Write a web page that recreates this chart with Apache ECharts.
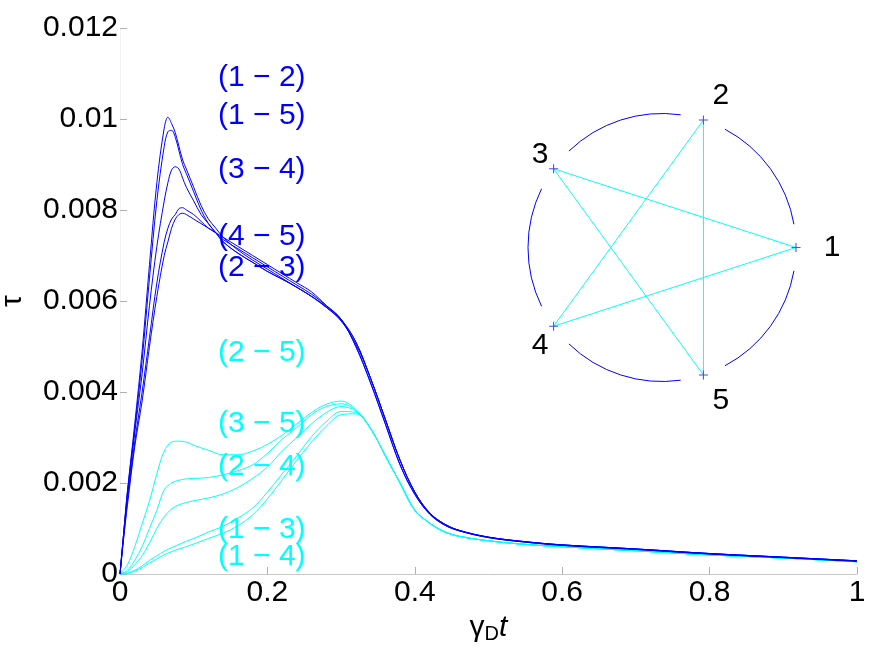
<!DOCTYPE html>
<html>
<head>
<meta charset="utf-8">
<script src="https://cdn.jsdelivr.net/npm/echarts@6/dist/echarts.min.js"></script>
<style>html,body{margin:0;padding:0;background:#fff}#c{width:886px;height:654px}</style>
</head>
<body>
<div id="c"></div>
<script>
// ---------- data ----------
const tBlue = [0, 0.005, 0.01, 0.02, 0.03, 0.04, 0.05, 0.06, 0.065, 0.07, 0.075, 0.08, 0.085, 0.09, 0.1, 0.11, 0.12, 0.13, 0.14, 0.16, 0.18, 0.2, 0.22, 0.24, 0.26, 0.28, 0.3, 0.32, 0.34, 0.36, 0.38, 0.4, 0.42, 0.44, 0.46, 0.5, 0.55, 0.6, 0.7, 0.8, 0.9, 1.0];
const tauBlue12 = [0, 0.0009, 0.0018, 0.0033, 0.0049, 0.0068, 0.0086, 0.0098, 0.01004, 0.0099, 0.0097, 0.0094, 0.0091, 0.0089, 0.0085, 0.0081, 0.0078, 0.0076, 0.0074, 0.00712, 0.0069, 0.0067, 0.0065, 0.0063, 0.0061, 0.00588, 0.0056, 0.0051, 0.0043, 0.0034, 0.0025, 0.0018, 0.00135, 0.0011, 0.00096, 0.00081, 0.00071, 0.00064, 0.00055, 0.00045, 0.00037, 0.00029];
const tauBlue15 = [0, 0.0009, 0.0018, 0.0032, 0.0047, 0.0065, 0.0082, 0.0094, 0.00972, 0.00975, 0.0096, 0.0093, 0.0090, 0.0088, 0.0084, 0.0080, 0.0077, 0.0075, 0.0073, 0.00705, 0.00685, 0.00665, 0.00648, 0.0063, 0.0061, 0.00586, 0.00558, 0.0051, 0.0043, 0.0034, 0.0025, 0.0018, 0.00134, 0.0011, 0.00096, 0.00081, 0.00071, 0.00064, 0.00055, 0.00045, 0.00037, 0.00029];
const tauBlue34 = [0, 0.0009, 0.0017, 0.0031, 0.0044, 0.0059, 0.0072, 0.0082, 0.0086, 0.00888, 0.00895, 0.0089, 0.0087, 0.0085, 0.0082, 0.0079, 0.0077, 0.0075, 0.0073, 0.00705, 0.00685, 0.00665, 0.00648, 0.0063, 0.0061, 0.00586, 0.00556, 0.00505, 0.0043, 0.0034, 0.0025, 0.0018, 0.00134, 0.0011, 0.00096, 0.00081, 0.00071, 0.00064, 0.00055, 0.00045, 0.00037, 0.00029];
const tauBlue45 = [0, 0.0008, 0.0016, 0.0029, 0.0040, 0.0052, 0.0064, 0.0073, 0.0076, 0.0078, 0.0079, 0.00803, 0.00805, 0.0080, 0.0079, 0.00775, 0.0076, 0.0075, 0.0074, 0.0072, 0.0070, 0.0068, 0.0066, 0.0064, 0.0062, 0.0059, 0.0056, 0.0050, 0.0042, 0.0033, 0.0024, 0.00175, 0.00132, 0.00108, 0.00095, 0.0008, 0.0007, 0.00063, 0.00054, 0.00044, 0.00036, 0.00028];
const tauBlue23 = [0, 0.0008, 0.0015, 0.0028, 0.0038, 0.0050, 0.0061, 0.0070, 0.0073, 0.0076, 0.0078, 0.0079, 0.00793, 0.0079, 0.0078, 0.0077, 0.0076, 0.0075, 0.00735, 0.00715, 0.00695, 0.00675, 0.00655, 0.00635, 0.00615, 0.0059, 0.0056, 0.0050, 0.0042, 0.0033, 0.0024, 0.00175, 0.00132, 0.00108, 0.00095, 0.0008, 0.0007, 0.00063, 0.00054, 0.00044, 0.00036, 0.00028];

const tCyan = [0, 0.01, 0.02, 0.03, 0.04, 0.05, 0.06, 0.07, 0.08, 0.09, 0.1, 0.12, 0.14, 0.16, 0.18, 0.2, 0.22, 0.24, 0.26, 0.28, 0.3, 0.32, 0.34, 0.36, 0.38, 0.4, 0.42, 0.44, 0.46, 0.5, 0.55, 0.6, 0.7, 0.8, 0.9, 1.0];
const tauCyan25 = [0, 0.0002, 0.0006, 0.0011, 0.0016, 0.0022, 0.0027, 0.0029, 0.00292, 0.0029, 0.00283, 0.00272, 0.00262, 0.00262, 0.0027, 0.00285, 0.00305, 0.0033, 0.00355, 0.00373, 0.0038, 0.00362, 0.0032, 0.0026, 0.0020, 0.0014, 0.00112, 0.00093, 0.00083, 0.00073, 0.00065, 0.0006, 0.00051, 0.00042, 0.00035, 0.00027];
const tauCyan35 = [0, 0.00008, 0.0003, 0.0006, 0.0010, 0.0014, 0.00185, 0.0020, 0.00206, 0.00209, 0.0021, 0.00212, 0.00218, 0.00227, 0.0024, 0.00265, 0.00296, 0.00322, 0.0035, 0.00368, 0.00374, 0.0036, 0.0032, 0.0026, 0.0020, 0.0014, 0.00112, 0.00093, 0.00083, 0.00073, 0.00065, 0.0006, 0.00051, 0.00042, 0.00035, 0.00027];
const tauCyan24 = [0, 0.00005, 0.0002, 0.0004, 0.00068, 0.001, 0.00126, 0.00143, 0.00152, 0.00157, 0.00161, 0.00167, 0.00176, 0.0019, 0.0021, 0.00235, 0.0027, 0.003, 0.0033, 0.00355, 0.00368, 0.00358, 0.0032, 0.0026, 0.0020, 0.0014, 0.00112, 0.00093, 0.00083, 0.00073, 0.00065, 0.0006, 0.00051, 0.00042, 0.00035, 0.00027];
const tauCyan13 = [0, 0.00002, 0.00008, 0.00018, 0.0003, 0.0004, 0.0005, 0.00058, 0.00065, 0.00072, 0.00078, 0.00092, 0.00105, 0.00123, 0.00145, 0.0018, 0.0022, 0.0026, 0.00302, 0.00335, 0.00357, 0.00355, 0.0032, 0.0026, 0.0020, 0.0014, 0.00112, 0.00093, 0.00083, 0.00073, 0.00065, 0.0006, 0.00051, 0.00042, 0.00035, 0.00027];
const tauCyan14 = [0, 0.00001, 0.00006, 0.00014, 0.00024, 0.00033, 0.00042, 0.00049, 0.00055, 0.0006, 0.00066, 0.00078, 0.0009, 0.00106, 0.0013, 0.00165, 0.00207, 0.0025, 0.0029, 0.00325, 0.0035, 0.00352, 0.0032, 0.0026, 0.0020, 0.0014, 0.00112, 0.00093, 0.00083, 0.00073, 0.00065, 0.0006, 0.00051, 0.00042, 0.00035, 0.00027];

const blueNames = ['(1 − 2)', '(1 − 5)', '(3 − 4)', '(4 − 5)', '(2 − 3)'];
const cyanNames = ['(2 − 5)', '(3 − 5)', '(2 − 4)', '(1 − 3)', '(1 − 4)'];
// annotation anchor points (data coords: t, tau)
const labelT = [0.133, 0.133, 0.133, 0.133, 0.133, 0.133, 0.133, 0.133, 0.133, 0.133];
const labelTau = [0.0109, 0.01007, 0.00888, 0.00741, 0.00673, 0.00486, 0.0033, 0.00235, 0.00097, 0.00037];

const xTicks = [0, 0.2, 0.4, 0.6, 0.8, 1];
const yTicks = [0, 0.002, 0.004, 0.006, 0.008, 0.01, 0.012];

// inset: ring of 5 nodes
const nodeNames = ['1', '2', '3', '4', '5'];
const nodeAngles = [0, 72, 144, 216, 288];
const ringEdges = [[0, 1], [1, 2], [2, 3], [3, 4], [4, 0]];
const starEdges = [[0, 2], [0, 3], [1, 3], [1, 4], [2, 4]];
const nodeLabelPos = [[1.27, 0], [0.44, 1.13], [-0.91, 0.69], [-0.91, -0.73], [0.44, -1.14]];
const arcGapDeg = 10;

// ---------- chart ----------
const FONT = '"Liberation Sans", Arial, Helvetica, sans-serif';
const BLUE = '#0000ff', CYAN = '#00ffff';
const chart = echarts.init(document.getElementById('c'), null, {renderer: 'canvas'});

const pair = (ts, ys) => ts.map((t, i) => [t, ys[i]]);
const blueSets = [tauBlue12, tauBlue15, tauBlue34, tauBlue45, tauBlue23];
const cyanSets = [tauCyan25, tauCyan35, tauCyan24, tauCyan13, tauCyan14];

const series = [];
cyanSets.forEach((ys, i) => series.push({
  name: cyanNames[i], type: 'line', xAxisIndex: 0, yAxisIndex: 0,
  data: pair(tCyan, ys), showSymbol: false, smooth: 0.35, silent: true,
  lineStyle: {color: CYAN, width: 1}
}));
blueSets.forEach((ys, i) => series.push({
  name: blueNames[i], type: 'line', xAxisIndex: 0, yAxisIndex: 0,
  data: pair(tBlue, ys), showSymbol: false, smooth: 0.35, silent: true,
  lineStyle: {color: BLUE, width: 1}
}));

const allNames = blueNames.concat(cyanNames);
series.push({
  type: 'scatter', xAxisIndex: 0, yAxisIndex: 0, symbolSize: 0, silent: true, z: 5,
  itemStyle: {opacity: 1},
  data: allNames.map((n, i) => ({value: [labelT[i], labelTau[i]], name: n,
    label: {color: i < 5 ? BLUE : CYAN}})),
  label: {show: true, position: [0, 0], align: 'left', verticalAlign: 'middle', opacity: 1,
    formatter: p => p.name, fontSize: 30, fontFamily: FONT}
});

// inset
const rad = d => d * Math.PI / 180;
const nodeXY = nodeAngles.map(a => [Math.cos(rad(a)), Math.sin(rad(a))]);
series.push({
  type: 'custom', coordinateSystem: 'cartesian2d', xAxisIndex: 1, yAxisIndex: 1, silent: true,
  data: ringEdges.map(e => [nodeAngles[e[0]], nodeAngles[e[1]] === 0 ? 360 : nodeAngles[e[1]]]),
  encode: {x: -1, y: -1},
  renderItem: (params, api) => {
    const a1 = api.value(0) + arcGapDeg, a2 = api.value(1) - arcGapDeg;
    const c = api.coord([0, 0]);
    const r = api.size([1, 1])[0];
    return {type: 'arc', shape: {cx: c[0], cy: c[1], r: r, startAngle: -rad(a2), endAngle: -rad(a1), clockwise: true},
      style: {stroke: BLUE, fill: null, lineWidth: 1}};
  }
});
starEdges.forEach(e => series.push({
  type: 'line', xAxisIndex: 1, yAxisIndex: 1, silent: true, showSymbol: false,
  data: [nodeXY[e[0]], nodeXY[e[1]]], lineStyle: {color: CYAN, width: 1}
}));
series.push({
  type: 'scatter', xAxisIndex: 1, yAxisIndex: 1, silent: true, z: 4,
  symbol: 'path://M0.44,0H0.56V0.44H1V0.56H0.56V1H0.44V0.56H0V0.44H0.44Z', symbolSize: 9,
  itemStyle: {color: '#4a4aff', opacity: 1},
  data: nodeXY
});
series.push({
  type: 'scatter', xAxisIndex: 1, yAxisIndex: 1, silent: true, symbolSize: 0,
  itemStyle: {opacity: 1},
  data: nodeLabelPos.map((p, i) => ({value: p, name: nodeNames[i]})),
  label: {show: true, position: [0, 0], align: 'center', verticalAlign: 'middle', opacity: 1,
    formatter: p => p.name, fontSize: 30, fontFamily: FONT, color: '#000'}
});

const option = {
  backgroundColor: '#fff',
  animation: false,
  grid: [
    {left: 120, right: 29, top: 28, bottom: 80, containLabel: false, outerBoundsMode: 'none'},
    {left: 461, top: 46.5, width: 402, height: 402, outerBoundsMode: 'none'}
  ],
  xAxis: [{
    type: 'value', gridIndex: 0, min: 0, max: 1, interval: 0.2,
    name: '{g|γ}{d|D}{t|t}', nameLocation: 'middle', nameGap: 30,
    nameTextStyle: {fontFamily: FONT, fontSize: 30, color: '#000',
      rich: {g: {fontSize: 30, fontFamily: FONT, color: '#000'},
             d: {fontSize: 20, fontFamily: FONT, color: '#000', padding: [14, 0, 0, 0]},
             t: {fontSize: 30, fontFamily: FONT, fontStyle: 'italic', color: '#000'}}},
    axisLine: {show: true, lineStyle: {color: '#c8c8c8', width: 1}},
    axisTick: {show: true, inside: true, length: 7, lineStyle: {color: '#b0b0b0'}},
    axisLabel: {fontSize: 30, fontFamily: FONT, color: '#000', margin: 4,
      formatter: v => String(+v.toFixed(1))},
    splitLine: {show: false}
  }, {
    type: 'value', gridIndex: 1, min: -1.5, max: 1.5, show: false
  }],
  yAxis: [{
    type: 'value', gridIndex: 0, min: 0, max: 0.012, interval: 0.002,
    name: 'τ', nameLocation: 'middle', nameGap: 92, nameRotate: 90,
    nameTextStyle: {fontFamily: FONT, fontSize: 30, color: '#000'},
    axisLine: {show: true, lineStyle: {color: '#f2f2f2', width: 1}},
    axisTick: {show: true, inside: true, length: 7, lineStyle: {color: '#b0b0b0'}},
    axisLabel: {fontSize: 30, fontFamily: FONT, color: '#000', margin: 2,
      formatter: v => String(+v.toFixed(3))},
    splitLine: {show: false}
  }, {
    type: 'value', gridIndex: 1, min: -1.5, max: 1.5, show: false
  }],
  series: series
};
chart.setOption(option);
</script>
</body>
</html>
